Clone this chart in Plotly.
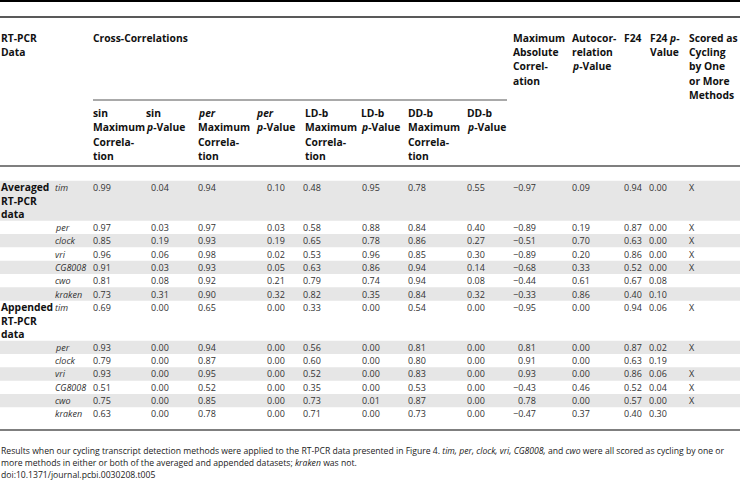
import plotly.graph_objects as go

# ---------------- data ----------------
genes = ["tim", "per", "clock", "vri", "CG8008", "cwo", "kraken"]
group_labels = [["Averaged", "RT-PCR", "data"], ["Appended", "RT-PCR", "data"]]

sin_max = [0.99, 0.97, 0.85, 0.96, 0.91, 0.81, 0.73,
           0.69, 0.93, 0.79, 0.93, 0.51, 0.75, 0.63]
sin_p = [0.04, 0.03, 0.19, 0.06, 0.03, 0.08, 0.31,
         0.00, 0.00, 0.00, 0.00, 0.00, 0.00, 0.00]
per_max = [0.94, 0.97, 0.93, 0.98, 0.93, 0.92, 0.90,
           0.65, 0.94, 0.87, 0.95, 0.52, 0.85, 0.78]
per_p = [0.10, 0.03, 0.19, 0.02, 0.05, 0.21, 0.32,
         0.00, 0.00, 0.00, 0.00, 0.00, 0.00, 0.00]
ldb_max = [0.48, 0.58, 0.65, 0.53, 0.63, 0.79, 0.82,
           0.33, 0.56, 0.60, 0.52, 0.35, 0.73, 0.71]
ldb_p = [0.95, 0.88, 0.78, 0.96, 0.86, 0.74, 0.35,
         0.00, 0.00, 0.00, 0.00, 0.00, 0.01, 0.00]
ddb_max = [0.78, 0.84, 0.86, 0.85, 0.94, 0.94, 0.84,
           0.54, 0.81, 0.80, 0.83, 0.53, 0.87, 0.73]
ddb_p = [0.55, 0.40, 0.27, 0.30, 0.14, 0.08, 0.32,
         0.00, 0.00, 0.00, 0.00, 0.00, 0.00, 0.00]
max_abs = [-0.97, -0.89, -0.51, -0.89, -0.68, -0.44, -0.33,
           -0.95, 0.81, 0.91, 0.93, -0.43, 0.78, -0.47]
auto_p = [0.09, 0.19, 0.70, 0.20, 0.33, 0.61, 0.86,
          0.00, 0.00, 0.00, 0.00, 0.46, 0.00, 0.37]
f24 = [0.94, 0.87, 0.63, 0.86, 0.52, 0.67, 0.40,
       0.94, 0.87, 0.63, 0.86, 0.52, 0.57, 0.40]
f24_p = [0.00, 0.00, 0.00, 0.00, 0.00, 0.08, 0.10,
         0.06, 0.02, 0.19, 0.06, 0.04, 0.00, 0.30]
scored = ["X", "X", "X", "X", "X", "", "",
          "X", "X", "", "X", "X", "X", ""]

caption = [
    "Results when our cycling transcript detection methods were applied to the RT-PCR data presented in Figure 4. "
    "<i>tim, per, clock, vri, CG8008,</i> and <i>cwo</i> were all scored as cycling by one or",
    "more methods in either or both of the averaged and appended datasets; <i>kraken</i> was not.",
    "doi:10.1371/journal.pcbi.0030208.t005",
]

# ---------------- styling / layout ----------------
W, H = 740, 481
FONT = "Open Sans"
BODY_SIZE = 9
HEAD_SIZE = 10.3
BODY_COLOR = "#333333"
HEAD_COLOR = "#111111"
SHADE = "#e6e6e6"
LINE_H = 13.33
BODY_TOP = 180.7
HEAD_LINE_H = 14.4


def fmt(v):
    s = f"{v:.2f}"
    return s.replace("-", "\u2212")


fig = go.Figure()
annotations = []
shapes = []


def text(x, y, t, size=BODY_SIZE, color=BODY_COLOR, anchor="left"):
    annotations.append(dict(
        x=x, y=y, xref="x", yref="y", text=t, showarrow=False,
        xanchor=anchor, yanchor="middle", borderpad=0, borderwidth=0,
        font=dict(family=FONT, size=size, color=color)))


# rows: each dataset = 7 genes, 'tim' row spans 3 lines for group label
rows = []
for g in range(2):
    for i, gene in enumerate(genes):
        rows.append((g, i, gene, 3 if i == 0 else 1))

tops = []
y = BODY_TOP
for r in rows:
    tops.append(y)
    y += r[3] * LINE_H

# shading (alternate rows)
for k, r in enumerate(rows):
    if k % 2 == 0:
        shapes.append(dict(type="rect", xref="x", yref="y", x0=0, x1=W,
                           y0=tops[k], y1=tops[k] + r[3] * LINE_H,
                           fillcolor=SHADE, line=dict(width=0), layer="below"))

# body text
cols = [
    (sin_max, 93, "left"), (sin_p, 150.7, "left"),
    (per_max, 198.3, "left"), (per_p, 266.7, "left"),
    (ldb_max, 302.7, "left"), (ldb_p, 362, "left"),
    (ddb_max, 408.3, "left"), (ddb_p, 466.7, "left"),
    (max_abs, 536, "right"), (auto_p, 571.7, "left"),
    (f24, 624, "left"), (f24_p, 649.3, "left"),
]
for k, r in enumerate(rows):
    g, i, gene, nl = r
    yc = tops[k] + LINE_H / 2
    if i == 0:
        for j, lab in enumerate(group_labels[g]):
            text(0.5, yc + j * LINE_H, f"<b>{lab}</b>", size=HEAD_SIZE, color=HEAD_COLOR)
    text(55, yc, f"<i>{gene}</i>")
    for vals, x, anc in cols:
        text(x, yc, fmt(vals[k]), anchor=anc)
    if scored[k]:
        text(689.3, yc, scored[k])

# header
head_top = 37.5
sub_top = 112.7
top_headers = [
    (0.5, ["RT-PCR", "Data"]),
    (93, ["Cross-Correlations"]),
    (513.3, ["Maximum", "Absolute", "Correl-", "ation"]),
    (571.7, ["Autocor-", "relation", "<i>p</i>-Value"]),
    (623.5, ["F24"]),
    (649.5, ["F24 <i>p</i>-", "Value"]),
    (689.3, ["Scored as", "Cycling", "by One", "or More", "Methods"]),
]
sub_headers = [
    (93, ["sin", "Maximum", "Correla-", "tion"]),
    (146, ["sin", "<i>p</i>-Value"]),
    (198.3, ["<i>per</i>", "Maximum", "Correla-", "tion"]),
    (256, ["<i>per</i>", "<i>p</i>-Value"]),
    (305, ["LD-b", "Maximum", "Correla-", "tion"]),
    (361, ["LD-b", "<i>p</i>-Value"]),
    (407.7, ["DD-b", "Maximum", "Correla-", "tion"]),
    (466.7, ["DD-b", "<i>p</i>-Value"]),
]
for x, lines in top_headers:
    for j, t in enumerate(lines):
        text(x, head_top + j * HEAD_LINE_H, f"<b>{t}</b>", size=HEAD_SIZE, color=HEAD_COLOR)
for x, lines in sub_headers:
    for j, t in enumerate(lines):
        text(x, sub_top + j * HEAD_LINE_H, f"<b>{t}</b>", size=HEAD_SIZE, color=HEAD_COLOR)

# rules
def hline(y, x0=0, x1=W, width=1, color="#444444"):
    shapes.append(dict(type="line", xref="x", yref="y", x0=x0, x1=x1, y0=y, y1=y,
                       line=dict(color=color, width=width)))

hline(1, width=2, color="#000000")
hline(17, width=1.3, color="#222222")
hline(100, x0=93, x1=507, width=1, color="#555555")
hline(166, width=1.3, color="#555555")
hline(430, width=1.3, color="#555555")

# caption
cap_y = [450.5, 463, 475.3]
for j, t in enumerate(caption):
    text(0.5, cap_y[j], t, size=8.65, color="#222222")

fig.update_layout(
    width=W, height=H,
    margin=dict(l=0, r=0, t=0, b=0),
    paper_bgcolor="white", plot_bgcolor="white",
    xaxis=dict(range=[0, W], visible=False, fixedrange=True),
    yaxis=dict(range=[H, 0], visible=False, fixedrange=True),
    showlegend=False,
    annotations=annotations,
    shapes=shapes,
)
fig.write_html(
    "out.html",
    config={"displayModeBar": False},
    post_script="document.body.style.margin='0';document.body.style.overflow='hidden';",
)
